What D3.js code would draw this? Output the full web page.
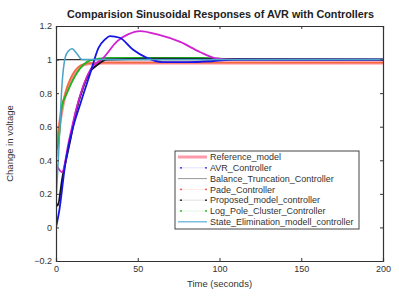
<!DOCTYPE html>
<html>
<head>
<meta charset="utf-8">
<script src="https://cdn.jsdelivr.net/npm/d3@7"></script>
<style>
  body { margin: 0; background: #fff; }
  svg { font-family: "Liberation Sans", Arial, sans-serif; }
</style>
</head>
<body>
<div id="chart"></div>
<script>
// series values: [time, voltage]
let reference_model = [[0, 0.42], [2, 0.6], [4, 0.72], [6, 0.8], [9, 0.88], [12, 0.93], [15, 0.96], [20, 0.975], [30, 0.98], [100, 0.98], [200, 0.98]];
let avr_controller = [[0, 0], [2, 0.1], [5.7, 0.38], [10, 0.58], [15, 0.74], [21, 0.92], [26, 1.07], [30, 1.12], [33, 1.14], [39, 1.13], [47, 1.06], [55.6, 1.01], [65, 0.985], [80, 0.985], [95, 0.99], [110, 1.0], [200, 1.0]];
let balance_truncation = [[0, 1], [200, 1]];
let pade_controller = [[0, 0.44], [2, 0.61], [4, 0.73], [6, 0.81], [9, 0.89], [12, 0.94], [15, 0.965], [20, 0.978], [30, 0.982], [200, 0.982]];
let proposed_controller = [[0, 0.15], [1, 0.13], [4, 0.3], [8.7, 0.52], [12, 0.68], [16.8, 0.84], [21, 0.93], [25, 0.966], [31, 1.0], [60, 1.005], [200, 1.0]];
let log_pole_controller = [[0, 0.46], [1.4, 0.5], [3.6, 0.72], [6.7, 0.8], [12.8, 0.92], [21, 0.995], [31, 1.01], [90, 1.01], [110, 1.0], [200, 1.0]];
let state_elimination = [[0, 0.15], [1.6, 0.44], [3.6, 0.84], [5.7, 1.015], [7.5, 1.05], [9.8, 1.065], [12.8, 1.035], [15.9, 1.0], [20, 1.0], [200, 1.0]];
let magenta_curve = [[0, 0.38], [3.6, 0.33], [8, 0.52], [12.8, 0.72], [21, 0.94], [29, 1.01], [37.5, 1.11], [44, 1.15], [51.5, 1.17], [62, 1.15], [76, 1.105], [88, 1.045], [98, 1.007], [110, 1.0], [200, 1.0]];

let legend_labels = ['Reference_model', 'AVR_Controller', 'Balance_Truncation_Controller', 'Pade_Controller',
  'Proposed_model_controller', 'Log_Pole_Cluster_Controller', 'State_Elimination_modell_controller'];
let x_ticks = [0, 50, 100, 150, 200];
let y_ticks = [-0.2, 0, 0.2, 0.4, 0.6, 0.8, 1, 1.2];

let chart_width = 399;
let chart_height = 296;
let pad_left = 56, pad_right = 383, pad_top = 26, pad_bottom = 261;

let svg = d3.select('#chart').append('svg')
  .attr('width', chart_width)
  .attr('height', chart_height);

let x_scale = d3.scaleLinear().domain([0, 200]).range([pad_left, pad_right]);
let y_scale = d3.scaleLinear().domain([-0.2, 1.2]).range([pad_bottom, pad_top]);

svg.append('clipPath').attr('id', 'plot-clip')
  .append('rect')
  .attr('x', pad_left).attr('y', pad_top)
  .attr('width', pad_right - pad_left).attr('height', pad_bottom - pad_top);

let line = d3.line()
  .x(d => x_scale(d[0]))
  .y(d => y_scale(d[1]))
  .curve(d3.curveMonotoneX);

let plot = svg.append('g').attr('clip-path', 'url(#plot-clip)');

//order matters: later ones drawn on top
let series = [
  { data: reference_model, color: '#ff8a8f', width: 3.2 },
  { data: pade_controller, color: '#f06a3a', width: 1.4 },
  { data: balance_truncation, color: '#333', width: 1.3 },
  { data: log_pole_controller, color: '#1fb31f', width: 1.8 },
  { data: proposed_controller, color: '#111', width: 2 },
  { data: magenta_curve, color: '#d21fd2', width: 1.8 },
  { data: avr_controller, color: '#1515e6', width: 1.8 },
  { data: state_elimination, color: '#4aa3c8', width: 1.5 }
];

plot.selectAll('path.series')
  .data(series)
  .enter()
  .append('path')
  .attr('class', 'series')
  .attr('d', d => line(d.data))
  .attr('fill', 'none')
  .attr('stroke', d => d.color)
  .attr('stroke-width', d => d.width)
  .attr('stroke-linejoin', 'round');

//axes, matlab style box with inner ticks
let x_axis = d3.axisBottom(x_scale).tickValues(x_ticks).tickSize(-3).tickPadding(5);
let y_axis = d3.axisLeft(y_scale).tickValues(y_ticks).tickSize(-3).tickPadding(4)
  .tickFormat(d => d3.format('~g')(d));

svg.append('g')
  .attr('transform', 'translate(0,' + pad_bottom + ')')
  .call(x_axis);
svg.append('g')
  .attr('transform', 'translate(' + pad_left + ',0)')
  .call(y_axis);
svg.append('g')
  .attr('transform', 'translate(0,' + pad_top + ')')
  .call(d3.axisTop(x_scale).tickValues(x_ticks).tickSize(-3).tickFormat(''));
svg.append('g')
  .attr('transform', 'translate(' + pad_right + ',0)')
  .call(d3.axisRight(y_scale).tickValues(y_ticks).tickSize(-3).tickFormat(''));

svg.selectAll('.domain').attr('stroke', '#333').attr('stroke-width', 1.2);
svg.selectAll('.tick line').attr('stroke', '#333');
svg.selectAll('.tick text').attr('font-size', 9).attr('fill', '#333')
  .attr('font-family', '"Liberation Sans", Arial, sans-serif');

//title and labels
svg.append('text')
  .attr('x', (pad_left + pad_right) / 2 + 1).attr('y', 18)
  .attr('text-anchor', 'middle')
  .attr('font-size', 10.8).attr('font-weight', 'bold').attr('fill', '#222')
  .text('Comparision Sinusoidal Responses of AVR with Controllers');

svg.append('text')
  .attr('x', (pad_left + pad_right) / 2).attr('y', 287)
  .attr('text-anchor', 'middle')
  .attr('font-size', 9.5).attr('fill', '#333')
  .text('Time (seconds)');

svg.append('text')
  .attr('transform', 'translate(13,' + ((pad_top + pad_bottom) / 2) + ') rotate(-90)')
  .attr('text-anchor', 'middle')
  .attr('font-size', 9.5).attr('fill', '#333')
  .text('Change in voltage');

//legend
let legend_x = 175, legend_y = 151, legend_w = 184, legend_h = 78;
let legend = svg.append('g');
legend.append('rect')
  .attr('x', legend_x).attr('y', legend_y)
  .attr('width', legend_w).attr('height', legend_h)
  .attr('fill', '#fff').attr('stroke', '#444').attr('stroke-width', 1);

let legend_styles = [
  { color: '#ff9aaa', width: 3, dots: false },
  { color: '#1515e6', width: 0.5, dots: true },
  { color: '#999', width: 1, dots: false },
  { color: '#f04040', width: 0.5, dots: true },
  { color: '#111', width: 0.5, dots: true },
  { color: '#1fb31f', width: 0.5, dots: true },
  { color: '#5ab0d8', width: 1.2, dots: false }
];

let rows = legend.selectAll('g.row')
  .data(legend_labels.map((label, i) => ({ label: label, style: legend_styles[i] })))
  .enter()
  .append('g')
  .attr('class', 'row')
  .attr('transform', (d, i) => 'translate(0,' + (legend_y + 6 + i * 10.8) + ')');

rows.append('line')
  .attr('x1', legend_x + 3).attr('x2', legend_x + 32)
  .attr('y1', 0).attr('y2', 0)
  .attr('stroke', d => d.style.color)
  .attr('stroke-opacity', d => d.style.dots ? 0.25 : 1)
  .attr('stroke-width', d => d.style.width);

rows.filter(d => d.style.dots)
  .selectAll('circle')
  .data(d => [{ c: d.style.color, cx: legend_x + 6 }, { c: d.style.color, cx: legend_x + 31 }])
  .enter()
  .append('circle')
  .attr('cx', d => d.cx)
  .attr('cy', 0)
  .attr('r', 0.9)
  .attr('fill', d => d.c);

rows.append('text')
  .attr('x', legend_x + 35).attr('y', 3.2)
  .attr('font-size', 9).attr('fill', '#333')
  .text(d => d.label);
</script>
</body>
</html>
